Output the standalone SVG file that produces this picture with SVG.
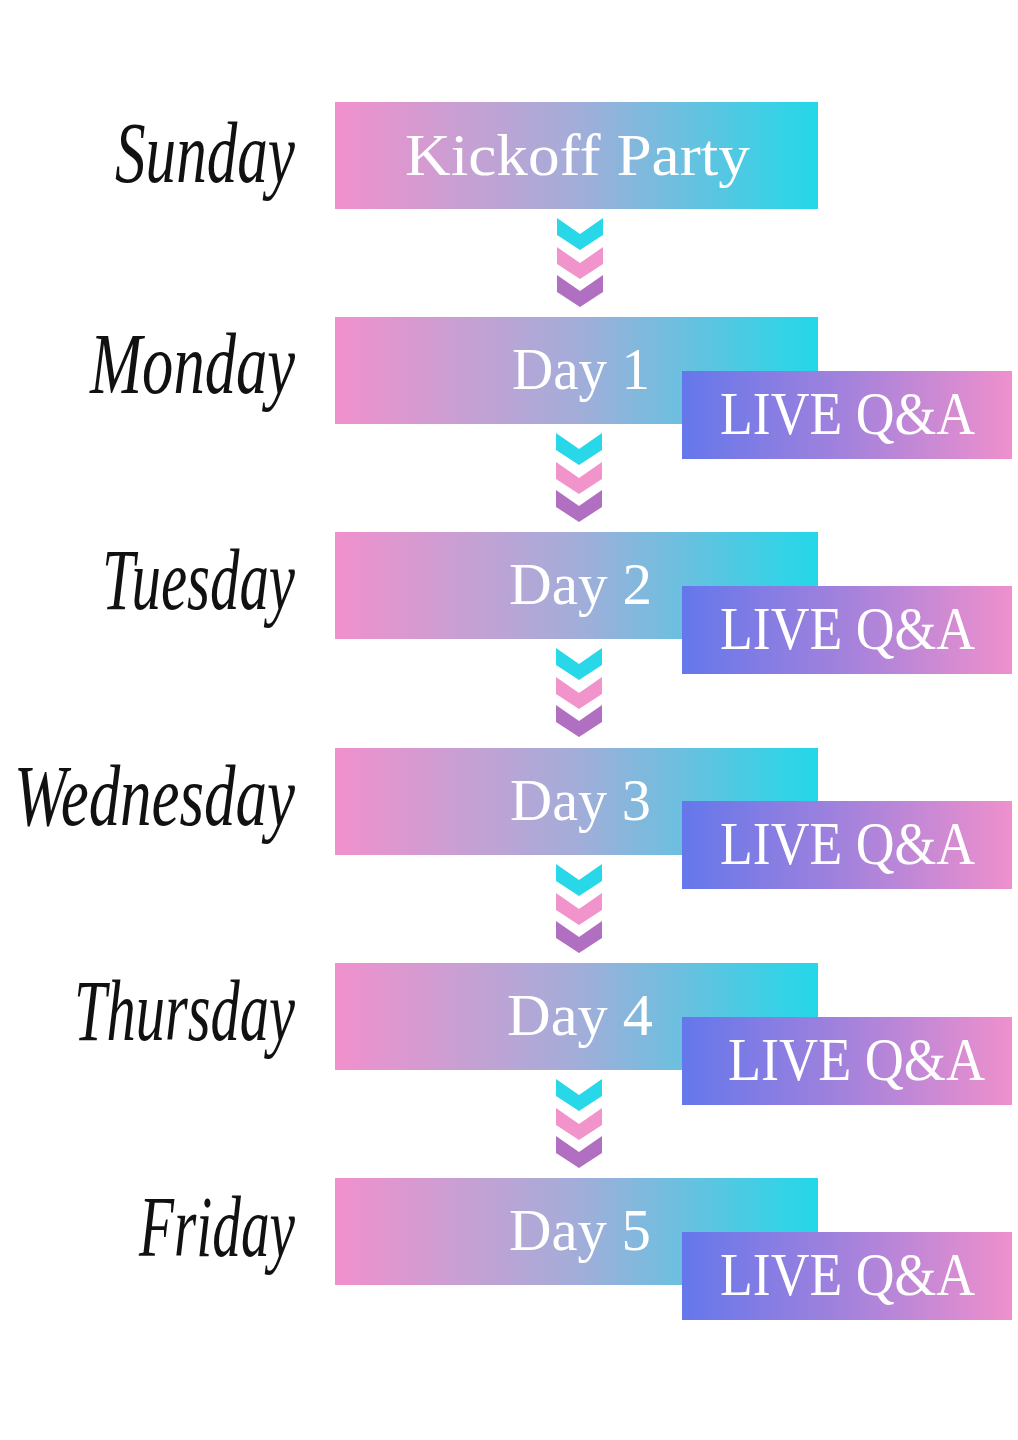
<svg xmlns="http://www.w3.org/2000/svg" width="1018" height="1440" viewBox="0 0 1018 1440">
  <defs>
    <linearGradient id="gBar" x1="0" y1="0" x2="1" y2="0">
      <stop offset="0" stop-color="#f190cc"/>
      <stop offset="0.5" stop-color="#a3add9"/>
      <stop offset="1" stop-color="#22d8e8"/>
    </linearGradient>
    <linearGradient id="gLive" x1="0" y1="0" x2="1" y2="0">
      <stop offset="0" stop-color="#6477eb"/>
      <stop offset="0.5" stop-color="#a482dc"/>
      <stop offset="1" stop-color="#ef90cc"/>
    </linearGradient>
    <path id="chev" d="M-23,0 L0,16 L23,0 L23,17 L0,32 L-23,17 Z"/>
    <g id="chevs">
      <use href="#chev" y="0" fill="#29d8e8"/>
      <use href="#chev" y="29" fill="#f194cc"/>
      <use href="#chev" y="57" fill="#b16fc1"/>
    </g>
  </defs>
  <style>
    .bar { fill: url(#gBar); }
    .live { fill: url(#gLive); }
    .main { font-family: "Liberation Serif", "DejaVu Serif", serif; fill: #ffffff; font-size: 60px; }
    .lq { font-family: "Liberation Serif", "DejaVu Serif", serif; fill: #ffffff; font-size: 62px; }
    .dn { font-family: "Liberation Serif", "DejaVu Serif", serif; font-style: italic; fill: #111111; font-size: 86px; text-anchor: end; }
  </style>
  <rect width="1018" height="1440" fill="#ffffff"/>

  <g id="connectors">
    <use href="#chevs" x="580" y="218"/>
    <use href="#chevs" x="579" y="433"/>
    <use href="#chevs" x="579" y="648"/>
    <use href="#chevs" x="579" y="864"/>
    <use href="#chevs" x="579" y="1079"/>
  </g>

  <g id="sunday">
    <text class="dn" x="295" y="182" textLength="180" lengthAdjust="spacingAndGlyphs">Sunday</text>
    <rect class="bar" x="335" y="102" width="483" height="107"/>
    <text class="main" x="405" y="175" font-size="62" textLength="345" lengthAdjust="spacingAndGlyphs">Kickoff Party</text>
  </g>

  <g id="monday">
    <text class="dn" x="295" y="393" textLength="205" lengthAdjust="spacingAndGlyphs">Monday</text>
    <rect class="bar" x="335" y="317" width="483" height="107"/>
    <text class="main" x="512" y="389" textLength="138" lengthAdjust="spacingAndGlyphs">Day 1</text>
    <rect class="live" x="682" y="371" width="330" height="88"/>
    <text class="lq" x="720" y="434" textLength="255" lengthAdjust="spacingAndGlyphs">LIVE Q&amp;A</text>
  </g>

  <g id="tuesday">
    <text class="dn" x="295" y="609" textLength="193" lengthAdjust="spacingAndGlyphs">Tuesday</text>
    <rect class="bar" x="335" y="532" width="483" height="107"/>
    <text class="main" x="509" y="604" textLength="143" lengthAdjust="spacingAndGlyphs">Day 2</text>
    <rect class="live" x="682" y="586" width="330" height="88"/>
    <text class="lq" x="720" y="649" textLength="255" lengthAdjust="spacingAndGlyphs">LIVE Q&amp;A</text>
  </g>

  <g id="wednesday">
    <text class="dn" x="295" y="825" textLength="281" lengthAdjust="spacingAndGlyphs">Wednesday</text>
    <rect class="bar" x="335" y="748" width="483" height="107"/>
    <text class="main" x="510" y="820" textLength="141" lengthAdjust="spacingAndGlyphs">Day 3</text>
    <rect class="live" x="682" y="801" width="330" height="88"/>
    <text class="lq" x="720" y="864" textLength="255" lengthAdjust="spacingAndGlyphs">LIVE Q&amp;A</text>
  </g>

  <g id="thursday">
    <text class="dn" x="295" y="1040" textLength="221" lengthAdjust="spacingAndGlyphs">Thursday</text>
    <rect class="bar" x="335" y="963" width="483" height="107"/>
    <text class="main" x="507" y="1035" textLength="146" lengthAdjust="spacingAndGlyphs">Day 4</text>
    <rect class="live" x="682" y="1017" width="330" height="88"/>
    <text class="lq" x="728" y="1080" textLength="257" lengthAdjust="spacingAndGlyphs">LIVE Q&amp;A</text>
  </g>

  <g id="friday">
    <text class="dn" x="295" y="1256" textLength="156" lengthAdjust="spacingAndGlyphs">Friday</text>
    <rect class="bar" x="335" y="1178" width="483" height="107"/>
    <text class="main" x="509" y="1250" textLength="142" lengthAdjust="spacingAndGlyphs">Day 5</text>
    <rect class="live" x="682" y="1232" width="330" height="88"/>
    <text class="lq" x="720" y="1295" textLength="255" lengthAdjust="spacingAndGlyphs">LIVE Q&amp;A</text>
  </g>
</svg>
